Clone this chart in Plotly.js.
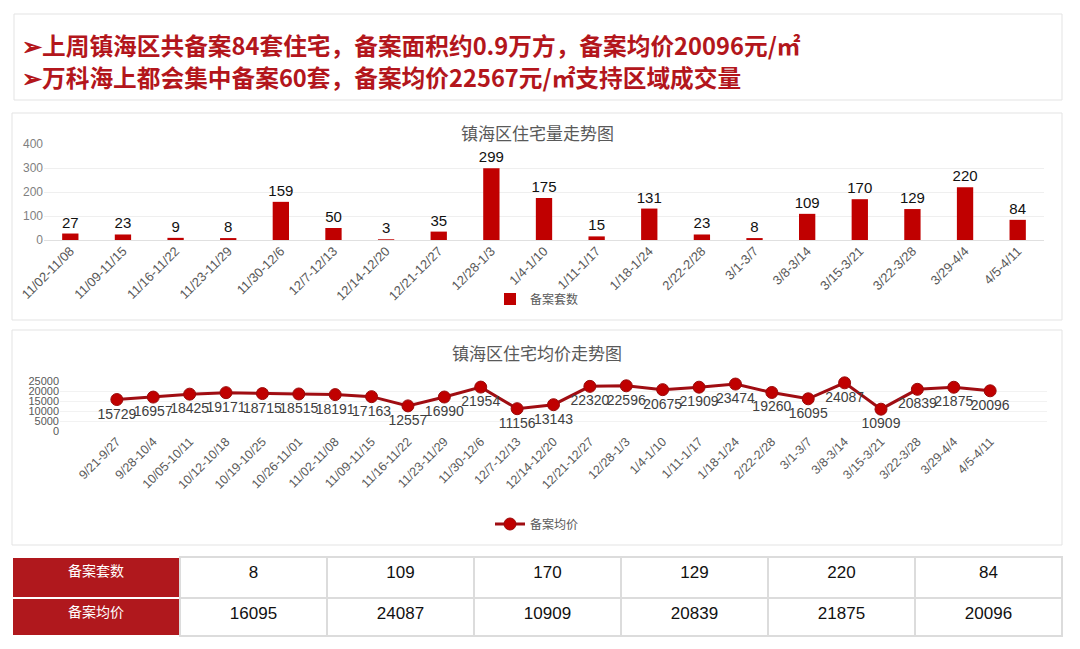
<!DOCTYPE html>
<html>
<head>
<meta charset="utf-8">
<script src="https://cdn.plot.ly/plotly-3.0.1.min.js"></script>
<style>
  html, body { margin: 0; padding: 0; background: #ffffff; }
  #chart { width: 1080px; height: 649px; }
</style>
</head>
<body>
<div id="chart"></div>
<script>
// ---------- data ----------
const headerLine1 = "➢上周镇海区共备案84套住宅，备案面积约0.9万方，备案均价20096元/㎡";
const headerLine2 = "➢万科海上都会集中备案60套，备案均价22567元/㎡支持区域成交量";

const barTitle = "镇海区住宅量走势图";
const barSeriesName = "备案套数";
const barCategories = ["11/02-11/08","11/09-11/15","11/16-11/22","11/23-11/29","11/30-12/6",
  "12/7-12/13","12/14-12/20","12/21-12/27","12/28-1/3","1/4-1/10","1/11-1/17","1/18-1/24",
  "2/22-2/28","3/1-3/7","3/8-3/14","3/15-3/21","3/22-3/28","3/29-4/4","4/5-4/11"];
const barValues = [27,23,9,8,159,50,3,35,299,175,15,131,23,8,109,170,129,220,84];

const lineTitle = "镇海区住宅均价走势图";
const lineSeriesName = "备案均价";
const lineCategories = ["9/21-9/27","9/28-10/4","10/05-10/11","10/12-10/18","10/19-10/25",
  "10/26-11/01","11/02-11/08","11/09-11/15","11/16-11/22","11/23-11/29","11/30-12/6",
  "12/7-12/13","12/14-12/20","12/21-12/27","12/28-1/3","1/4-1/10","1/11-1/17","1/18-1/24",
  "2/22-2/28","3/1-3/7","3/8-3/14","3/15-3/21","3/22-3/28","3/29-4/4","4/5-4/11"];
const lineValues = [15729,16957,18425,19171,18715,18515,18191,17163,12557,16990,21954,
  11156,13143,22320,22596,20675,21909,23474,19260,16095,24087,10909,20839,21875,20096];

const tableRowLabels = ["备案套数","备案均价"];
const tableCounts = [8,109,170,129,220,84];
const tablePrices = [16095,24087,10909,20839,21875,20096];

// ---------- helpers ----------
const W = 1080, H = 649;
const px = x => x / W;
const py = y => 1 - y / H;

const RED = "#c00000";
const GRAY = "#595959";
const CJK = "Noto Sans CJK SC, sans-serif";
const LAT = "Liberation Sans, Arial, sans-serif";

// ---------- traces ----------
const barTrace = {
  type: "bar",
  x: barCategories,
  y: barValues,
  name: barSeriesName,
  xaxis: "x", yaxis: "y",
  marker: { color: RED, line: { width: 0 } },
  text: barValues.map(String),
  textposition: "outside",
  constraintext: "none",
  textangle: 0,
  textfont: { family: LAT, size: 15, color: "#111111" },
  cliponaxis: false,
  legend: "legend",
  hoverinfo: "x+y"
};

const lineTrace = {
  type: "scatter",
  mode: "lines+markers+text",
  x: lineCategories,
  y: lineValues,
  name: lineSeriesName,
  xaxis: "x2", yaxis: "y2",
  line: { color: "#a00d12", width: 3 },
  marker: { color: RED, size: 12, line: { color: "#9a0a0a", width: 1 } },
  text: lineValues.map(String),
  textposition: "bottom center",
  textfont: { family: LAT, size: 14, color: "#404040" },
  cliponaxis: false,
  legend: "legend2",
  hoverinfo: "x+y"
};

const valueCols = tableCounts.length;
const tableTrace = {
  type: "table",
  domain: { x: [px(12), px(1062)], y: [py(638), py(557)] },
  columnwidth: [168].concat(Array(valueCols).fill(147)),
  header: {
    values: [[tableRowLabels[0]]].concat(tableCounts.map(v => [String(v)])),
    height: 41,
    align: "center",
    fill: { color: ["#b0181d"].concat(Array(valueCols).fill("#ffffff")) },
    line: { color: ["#ffffff"].concat(Array(valueCols).fill("#dcdcdc")), width: 1.5 },
    font: {
      family: [CJK].concat(Array(valueCols).fill(LAT)),
      size: [14].concat(Array(valueCols).fill(17)),
      color: ["#ffffff"].concat(Array(valueCols).fill("#111111"))
    }
  },
  cells: {
    values: [[tableRowLabels[1]]].concat(tablePrices.map(v => [String(v)])),
    height: 38,
    align: "center",
    fill: { color: ["#b0181d"].concat(Array(valueCols).fill("#ffffff")) },
    line: { color: ["#ffffff"].concat(Array(valueCols).fill("#dcdcdc")), width: 1.5 },
    font: {
      family: [CJK].concat(Array(valueCols).fill(LAT)),
      size: [14].concat(Array(valueCols).fill(17)),
      color: ["#ffffff"].concat(Array(valueCols).fill("#111111"))
    }
  }
};

// ---------- layout ----------
const panel = (x0, y0, x1, y1) => ({
  type: "rect", xref: "paper", yref: "paper", layer: "below",
  x0: px(x0), x1: px(x1), y0: py(y1), y1: py(y0),
  line: { color: "#e3e3e3", width: 1 }, fillcolor: "#ffffff"
});

const layout = {
  width: W, height: H,
  margin: { l: 0, r: 0, t: 0, b: 0 },
  paper_bgcolor: "#ffffff",
  plot_bgcolor: "rgba(0,0,0,0)",
  bargap: 0.69,
  showlegend: true,
  font: { family: CJK, color: GRAY },
  shapes: [
    panel(14, 14, 1062, 100),
    panel(12, 113, 1062, 320),
    panel(12, 330, 1062, 545)
  ],
  annotations: [
    { xref: "paper", yref: "paper", x: px(20), y: py(45), xanchor: "left", yanchor: "middle",
      text: headerLine1, showarrow: false,
      font: { family: CJK, size: 23.7, color: "#b3161c", weight: "bold" } },
    { xref: "paper", yref: "paper", x: px(20), y: py(77), xanchor: "left", yanchor: "middle",
      text: headerLine2, showarrow: false,
      font: { family: CJK, size: 23.7, color: "#b3161c", weight: "bold" } },
    { xref: "paper", yref: "paper", x: px(537), y: py(133), xanchor: "center", yanchor: "middle",
      text: barTitle, showarrow: false,
      font: { family: CJK, size: 17, color: GRAY } },
    { xref: "paper", yref: "paper", x: px(537), y: py(352), xanchor: "center", yanchor: "middle",
      text: lineTitle, showarrow: false,
      font: { family: CJK, size: 17, color: GRAY } }
  ],
  xaxis: {
    domain: [px(44), px(1044)], anchor: "y",
    type: "category", tickangle: -45,
    tickfont: { family: LAT, size: 13, color: GRAY },
    showgrid: false, zeroline: false, showline: false, ticks: "",
    fixedrange: true
  },
  yaxis: {
    domain: [py(240), py(144)], anchor: "x",
    range: [0, 400], dtick: 100, tick0: 0,
    tickfont: { family: LAT, size: 12, color: "#7f7f7f" },
    showgrid: true, gridcolor: "#efefef", gridwidth: 1,
    zeroline: true, zerolinecolor: "#e0e0e0",
    showline: false, ticks: "", fixedrange: true
  },
  xaxis2: {
    domain: [px(60), px(1047)], anchor: "y2",
    type: "category", tickangle: -45,
    tickfont: { family: LAT, size: 12.5, color: GRAY },
    showgrid: false, zeroline: false, showline: false, ticks: "",
    fixedrange: true
  },
  yaxis2: {
    domain: [py(431), py(381)], anchor: "x2",
    range: [0, 25000], dtick: 5000, tick0: 0,
    tickformat: "d",
    tickfont: { family: LAT, size: 11, color: GRAY },
    showgrid: true, gridcolor: "#f2f2f2", gridwidth: 1,
    zeroline: false, showline: false, ticks: "", fixedrange: true
  },
  legend: {
    x: px(537), y: py(299), xanchor: "center", yanchor: "middle",
    orientation: "h", bgcolor: "rgba(0,0,0,0)",
    font: { family: CJK, size: 12, color: GRAY }
  },
  legend2: {
    x: px(537), y: py(524), xanchor: "center", yanchor: "middle",
    orientation: "h", bgcolor: "rgba(0,0,0,0)",
    font: { family: CJK, size: 12, color: GRAY }
  }
};

Plotly.newPlot("chart", [barTrace, lineTrace, tableTrace], layout,
  { displayModeBar: false, staticPlot: true });
</script>
</body>
</html>
